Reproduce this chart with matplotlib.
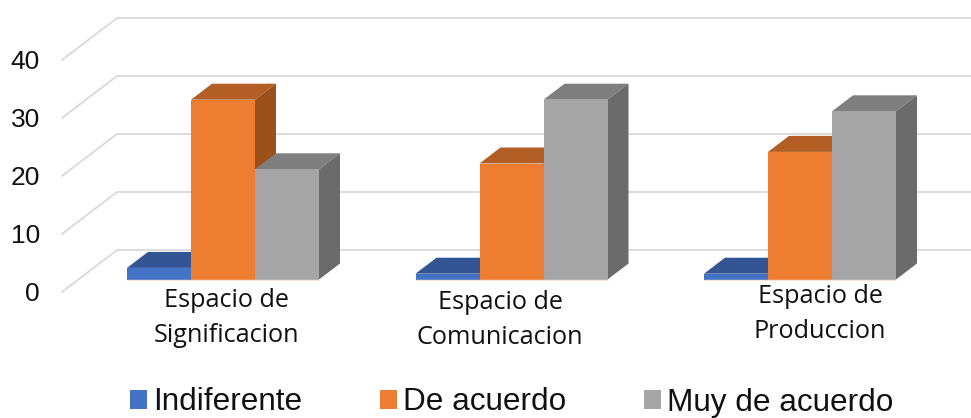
import matplotlib
matplotlib.use("Agg")
import matplotlib.pyplot as plt
import numpy as np

categories = ["Espacio de\nSignificacion", "Espacio de\nComunicacion", "Espacio de\nProduccion"]
series_names = ["Indiferente", "De acuerdo", "Muy de acuerdo"]
indiferente = [2, 1, 1]
de_acuerdo = [31, 20, 22]
muy_de_acuerdo = [19, 31, 29]
y_ticks = [0, 10, 20, 30, 40]

W, H = 971, 418
PX_X = 288.5      # pixels per category
PX_Y = 5.8        # pixels per value unit
X0, Y0 = 223, 279.5  # pixel of the first category centre, value 0 at bar front
BAR = 64 / PX_X
DX, DY = 21 / PX_X, 16 / PX_Y

front = ["#4472C4", "#ED7D31", "#A5A5A5"]
top = ["#335593", "#B25E24", "#7F7F7F"]
side = ["#2B4A80", "#9A511C", "#6B6B6B"]
edge = "#EFE6DF"

fig = plt.figure(figsize=(W / 100, H / 100), dpi=100)
ax = fig.add_axes([0, 0, 1, 1])
ax.set_xlim(-X0 / PX_X, (W - X0) / PX_X)
ax.set_ylim(-(H - Y0) / PX_Y, Y0 / PX_Y)
ax.axis("off")

# floor geometry (pixels to data)
x_front = (62 - X0) / PX_X
x_back = (117 - X0) / PX_X
off_front = (Y0 - 292) / PX_Y
off_back = (Y0 - 250) / PX_Y
for t in y_ticks:
    ax.plot([x_front, x_back, ax.get_xlim()[1]],
            [t + off_front, t + off_back, t + off_back],
            color="#D9D9D9", lw=1.3, zorder=1, solid_joinstyle="miter")
    ax.text((40 - X0) / PX_X, t + off_front - 0.35, str(t), ha="right", va="center",
            family="Liberation Sans", fontsize=19, color="#111111")

z = 2
handles = []
all_values = [indiferente, de_acuerdo, muy_de_acuerdo]
for i in range(len(categories)):
    for j, vals in enumerate(all_values):
        v = vals[i]
        l = i + (j - 1) * BAR - BAR / 2
        r = l + BAR
        ax.fill([l, r, r + DX, l + DX], [v, v, v + DY, v + DY], color=top[j], lw=0, zorder=z)
        ax.fill([r, r + DX, r + DX, r], [0, DY, v + DY, v], color=side[j], lw=0, zorder=z)
        b = ax.bar(i + (j - 1) * BAR, v, width=BAR, color=front[j], edgecolor="none",
                   zorder=z + 0.5)
        ax.plot([l, r], [0, 0], color=edge, lw=1.0, zorder=z + 0.6, solid_capstyle="butt")
        z += 1
        if i == 0:
            handles.append(b[0])

label_px = [(226, 318), (500, 320), (820, 314)]
for lab, (px, py) in zip(categories, label_px):
    ax.text((px - X0) / PX_X, (Y0 - py) / PX_Y, lab, ha="center", va="center",
            family="Open Sans", fontsize=18.2, color="#111111", linespacing=1.55)

FS = 22.7
FS_PX = FS * 100 / 72
leg = ax.legend(handles, series_names, ncol=3, loc="lower left",
                bbox_to_anchor=(130 / W, 0.5 / H), frameon=False,
                prop={"family": "Liberation Sans", "size": FS},
                handlelength=17 / FS_PX, handleheight=17 / FS_PX, handletextpad=6 / FS_PX,
                columnspacing=78 / FS_PX, borderpad=0, borderaxespad=0)
for t in leg.get_texts():
    t.set_color("#111111")
for h in leg.legend_handles:
    h.set_edgecolor("none")

fig.savefig("out.png", dpi=100)
